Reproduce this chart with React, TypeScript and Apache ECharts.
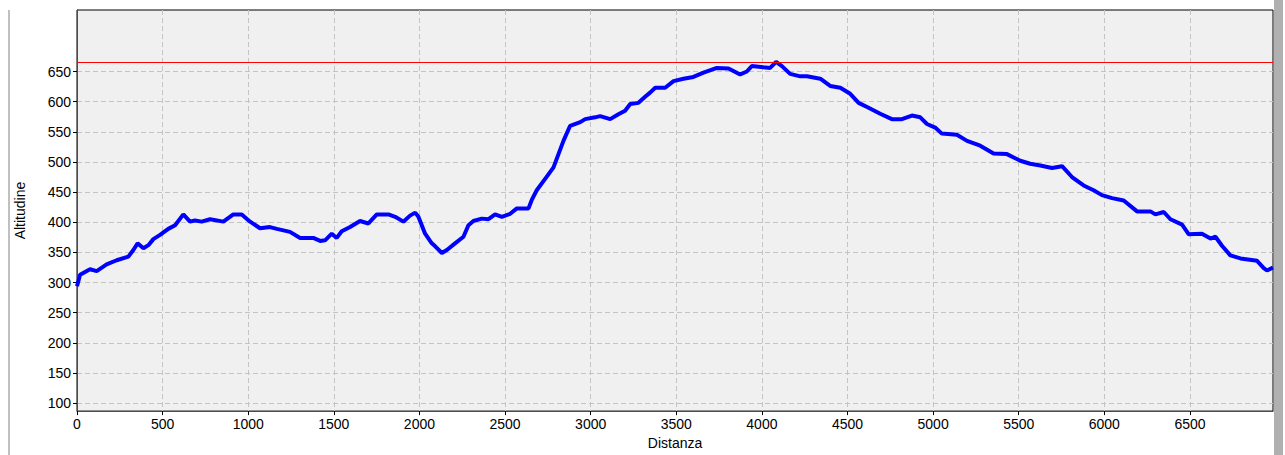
import React, { useEffect, useRef } from "react";
import * as echarts from "echarts";

const distances = [
  0, 18, 76, 115, 173, 232, 300, 329, 354, 388, 417, 446, 485, 533, 573, 621, 660, 689, 728, 777,
  855, 913, 962, 1011, 1069, 1127, 1167, 1244, 1303, 1380, 1420, 1449, 1488, 1517, 1546, 1595, 1653,
  1702, 1751, 1819, 1858, 1906, 1945, 1975, 1994, 2033, 2072, 2092, 2131, 2160, 2208, 2257, 2286,
  2315, 2364, 2403, 2442, 2481, 2530, 2569, 2637, 2656, 2685, 2734, 2783, 2812, 2841, 2880, 2939,
  2968, 3026, 3055, 3114, 3162, 3201, 3231, 3279, 3318, 3347, 3377, 3435, 3484, 3542, 3600, 3659,
  3737, 3805, 3873, 3912, 3941, 4009, 4048, 4083, 4117, 4165, 4224, 4263, 4341, 4399, 4458, 4516,
  4565, 4623, 4691, 4759, 4818, 4876, 4925, 4964, 5012, 5051, 5139, 5198, 5275, 5353, 5431, 5509,
  5567, 5626, 5694, 5753, 5811, 5879, 5937, 5986, 6045, 6113, 6191, 6269, 6298, 6347, 6386, 6454,
  6493, 6570, 6620, 6649, 6687, 6736, 6795, 6892, 6931, 6950, 6985,
];

const altitudes = [
  294, 313, 322, 319, 330, 337, 343, 354, 365, 357, 362, 372, 379, 389, 395, 413, 401, 403, 401, 405,
  401, 413, 413, 401, 390, 392, 389, 384, 374, 374, 369, 370, 381, 374, 385, 392, 402,
  398, 413, 413, 409, 401, 411, 416, 409, 381, 365, 360, 349, 354, 365, 376, 395,
  402, 406, 405, 413, 409, 414, 423, 423, 437, 453, 472, 491, 513, 535, 560, 566,
  571, 574, 576, 571, 579, 585, 596, 598, 608, 615, 623, 623, 634, 638, 641, 648,
  656, 655, 645, 650, 659, 657, 656, 666, 659, 646, 642, 642, 638, 626, 623, 613,
  598, 590, 580, 571, 571, 577, 574, 563, 557, 547, 545, 535, 527, 514, 513, 502,
  497, 494, 490, 493, 475, 461, 453, 445, 440, 436, 418, 418, 413, 417, 405, 396,
  380, 381, 373, 376, 361, 345, 340, 336, 324, 320, 325,
];

const xTicks = [0, 500, 1000, 1500, 2000, 2500, 3000, 3500, 4000, 4500, 5000, 5500, 6000, 6500];
const yTicks = [100, 150, 200, 250, 300, 350, 400, 450, 500, 550, 600, 650];

const FONT = "'Liberation Sans', Arial, sans-serif";

export default function App() {
  const ref = useRef<HTMLDivElement>(null);

  useEffect(() => {
    if (!ref.current) return;
    const chart = echarts.init(ref.current, null, { renderer: "svg" });
    const data = distances.map((d, i) => [d, altitudes[i]]);
    chart.setOption({
      animation: false,
      backgroundColor: "#ffffff",
      grid: {
        left: 77,
        top: 10,
        right: 12,
        bottom: 41,
        show: true,
        backgroundColor: "#f0f0f0",
        borderColor: "#000000",
        borderWidth: 1,
      },
      xAxis: {
        type: "value",
        min: 0,
        max: 6985,
        name: "Distanza",
        nameLocation: "middle",
        nameGap: 22,
        nameTextStyle: { color: "#000", fontSize: 14, fontFamily: FONT },
        axisLine: { show: true, lineStyle: { color: "#ff0000", width: 1 } },
        axisTick: { show: true, length: 4, lineStyle: { color: "#000" }, customValues: xTicks },
        axisLabel: {
          color: "#000",
          fontSize: 14,
          fontFamily: FONT,
          margin: 6,
          customValues: xTicks,
          formatter: (v: number) => String(v),
        },
        splitLine: { show: true, lineStyle: { color: "#c4c4c4", type: [5, 3], width: 1 } },
      },
      yAxis: {
        type: "value",
        min: 86.8,
        max: 752,
        name: "Altitudine",
        nameLocation: "middle",
        nameGap: 50,
        nameTextStyle: { color: "#000", fontSize: 14, fontFamily: FONT },
        axisLine: { show: true, lineStyle: { color: "#ff0000", width: 1 } },
        axisTick: { show: true, length: 4, lineStyle: { color: "#000" }, customValues: yTicks },
        axisLabel: {
          color: "#000",
          fontSize: 14,
          fontFamily: FONT,
          margin: 6,
          customValues: yTicks,
          formatter: (v: number) => String(v),
        },
        splitLine: { show: true, lineStyle: { color: "#c4c4c4", type: [5, 3], width: 1 } },
      },
      graphic: [
        { type: "rect", shape: { x: 8, y: 10, width: 2, height: 445 }, style: { fill: "#c0c0c0" }, silent: true },
        { type: "rect", shape: { x: 1274, y: 0, width: 9, height: 455 }, style: { fill: "#b0b0b0" }, silent: true },
      ],
      series: [
        {
          type: "line",
          data,
          showSymbol: false,
          symbol: "none",
          lineStyle: { color: "#0000ff", width: 4 },
          itemStyle: { color: "#0000ff" },
          z: 3,
          markLine: {
            silent: true,
            symbol: "none",
            label: { show: false },
            lineStyle: { color: "#ff0000", type: "solid", width: 1 },
            data: [{ type: "max", valueDim: "y" }],
          },
        },
      ],
    });
    return () => chart.dispose();
  }, []);

  return (
    <div
      ref={ref}
      style={{ position: "absolute", left: 0, top: 0, width: 1285, height: 455 }}
    />
  );
}
